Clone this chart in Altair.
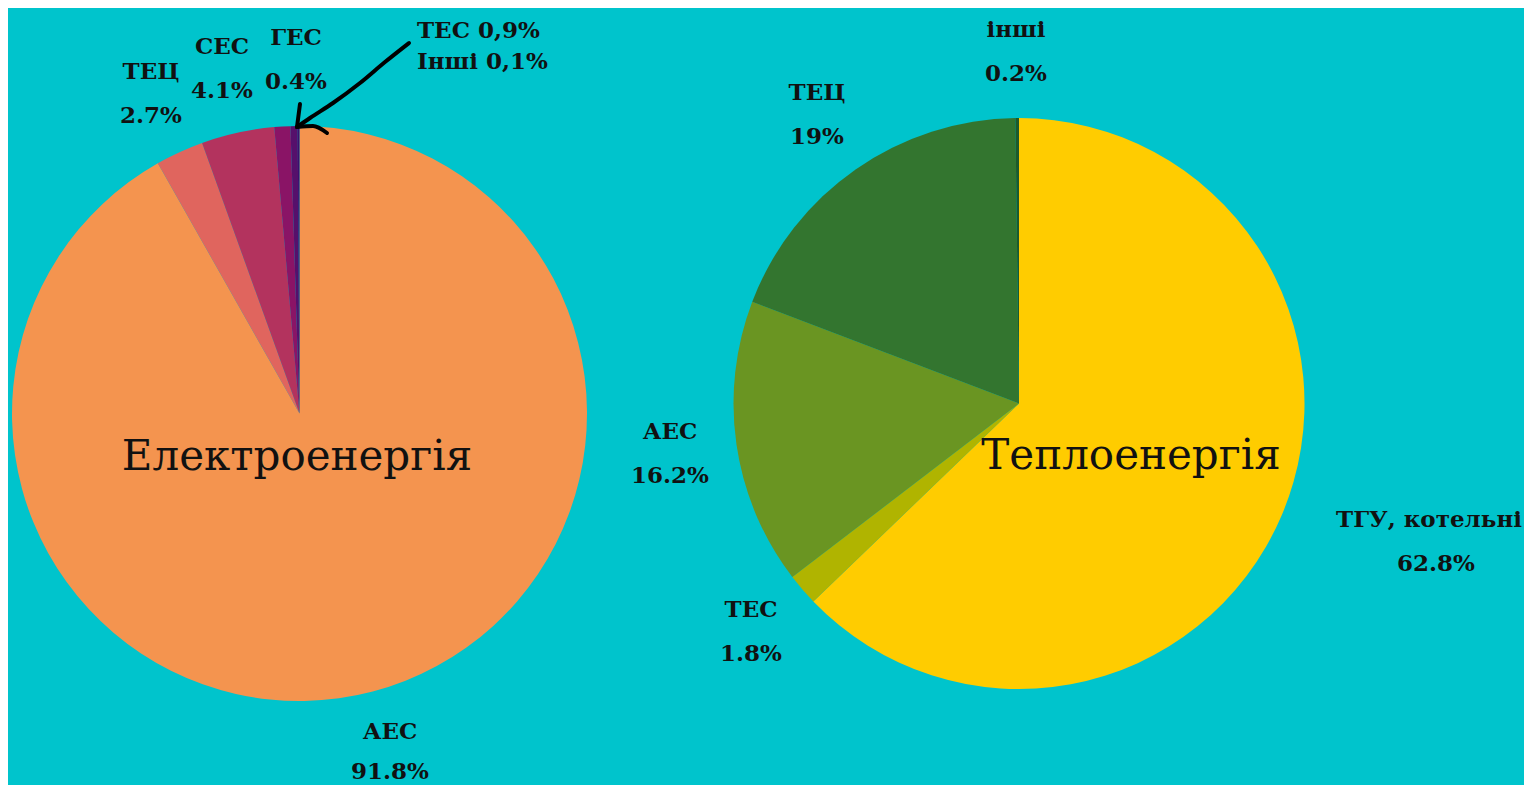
import altair as alt
import pandas as pd

# ---- data ----
elec_labels = ["АЕС", "ТЕЦ", "СЕС", "ТЕС", "ГЕС", "Інші"]
elec_values = [91.8, 2.7, 4.1, 0.9, 0.4, 0.1]
elec_colors = ["#F4944F", "#E0655E", "#B3335E", "#8A1466", "#56106B", "#3B0F70"]

heat_labels = ["ТГУ, котельні", "ТЕС", "АЕС", "ТЕЦ", "інші"]
heat_values = [62.8, 1.8, 16.2, 19.0, 0.2]
heat_colors = ["#FFCC00", "#B0B400", "#6A9522", "#33752F", "#1E5A2A"]

# label texts (name line, value line)
elec_text_top = ["АЕС", "ТЕЦ", "СЕС", "ГЕС"]
elec_text_bot = ["91.8%", "2.7%", "4.1%", "0.4%"]
heat_text_top = ["ТГУ, котельні", "ТЕС", "АЕС", "ТЕЦ", "інші"]
heat_text_bot = ["62.8%", "1.8%", "16.2%", "19%", "0.2%"]
note_lines = ["ТЕС 0,9%", "Інші 0,1%"]
titles = ["Електроенергія", "Теплоенергія"]

# ---- layout (annotation positions, plot coordinates) ----
M = 8
W, H = 1516, 777
L_CX, L_CY, L_R = 299.5 - M, 413.5 - M, 287.5
R_CX, R_CY, R_R = 1019 - M, 403.5 - M, 285.5

elec_lab_xy = [(390, 732), (151, 72), (222, 47), (296, 38)]
elec_gap = [40, 44, 44, 44]
heat_lab_xy = [(1429, 520), (751, 610), (670, 432), (817, 93), (1016, 30)]
heat_bot_x = [1436, 751, 670, 817, 1016]
LINE_GAP = 44

BG = "#00C4CC"
LABEL_FONT = "DejaVu Serif"

def pie(labels, values, colors, cx, cy, r):
    df = pd.DataFrame({"label": labels, "value": values, "color": colors,
                       "order": list(range(len(labels)))})
    return alt.Chart(df).mark_arc(radius=r).encode(
        theta=alt.Theta("value:Q", stack=True),
        order=alt.Order("order:Q"),
        color=alt.Color("color:N", scale=None),
        x=alt.value(cx), y=alt.value(cy),
    )

rows = []
for (t, b, (x, y), g) in zip(elec_text_top, elec_text_bot, elec_lab_xy, elec_gap):
    rows.append({"text": t, "x": x - M, "y": y - M})
    rows.append({"text": b, "x": x - M, "y": y - M + g})
for (t, b, (x, y), bx) in zip(heat_text_top, heat_text_bot, heat_lab_xy, heat_bot_x):
    rows.append({"text": t, "x": x - M, "y": y - M})
    rows.append({"text": b, "x": bx - M, "y": y - M + LINE_GAP})
labels_df = pd.DataFrame(rows)

labels = alt.Chart(labels_df).mark_text(
    font=LABEL_FONT, fontSize=23, fontWeight="bold", color="#111111",
    align="center", baseline="middle",
).encode(x=alt.X("x:Q", scale=None), y=alt.Y("y:Q", scale=None), text="text:N")

note_df = pd.DataFrame({"text": note_lines, "x": [417 - M, 417 - M], "y": [31 - M, 62 - M]})
note = alt.Chart(note_df).mark_text(
    font=LABEL_FONT, fontSize=23, fontWeight="bold", color="#111111",
    align="left", baseline="middle",
).encode(x=alt.X("x:Q", scale=None), y=alt.Y("y:Q", scale=None), text="text:N")

title_df = pd.DataFrame({"text": titles, "x": [297 - M, 1131 - M], "y": [457 - M, 456 - M]})
title_marks = alt.Chart(title_df).mark_text(
    font=LABEL_FONT, fontSize=42, color="#111111",
    align="center", baseline="middle",
).encode(x=alt.X("x:Q", scale=None), y=alt.Y("y:Q", scale=None), text="text:N")

# hand-drawn arrow annotation
arrow_pts = [
    ("shaft", 0, 409, 43), ("shaft", 1, 385, 62), ("shaft", 2, 360, 83),
    ("shaft", 3, 333, 103), ("shaft", 4, 310, 118), ("shaft", 5, 297, 127),
    ("b1", 0, 300, 104), ("b1", 1, 297, 127),
    ("b2", 0, 297, 127), ("b2", 1, 313, 126), ("b2", 2, 327, 133),
]
arrow_df = pd.DataFrame(arrow_pts, columns=["seg", "i", "x", "y"])
arrow_df["x"] -= M
arrow_df["y"] -= M
arrow = alt.Chart(arrow_df).mark_line(
    color="#000000", strokeWidth=4, strokeCap="round", strokeJoin="round",
    interpolate="monotone",
).encode(
    x=alt.X("x:Q", scale=None), y=alt.Y("y:Q", scale=None),
    detail="seg:N", order="i:Q",
)

chart = alt.layer(
    pie(elec_labels, elec_values, elec_colors, L_CX, L_CY, L_R),
    pie(heat_labels, heat_values, heat_colors, R_CX, R_CY, R_R),
    labels, note, title_marks, arrow,
).properties(
    width=W, height=H, padding=0, background=BG,
    autosize=alt.AutoSizeParams(type="none"),
).configure_view(stroke=None)

chart.save("out.html", embed_options={"renderer": "svg", "actions": False})
